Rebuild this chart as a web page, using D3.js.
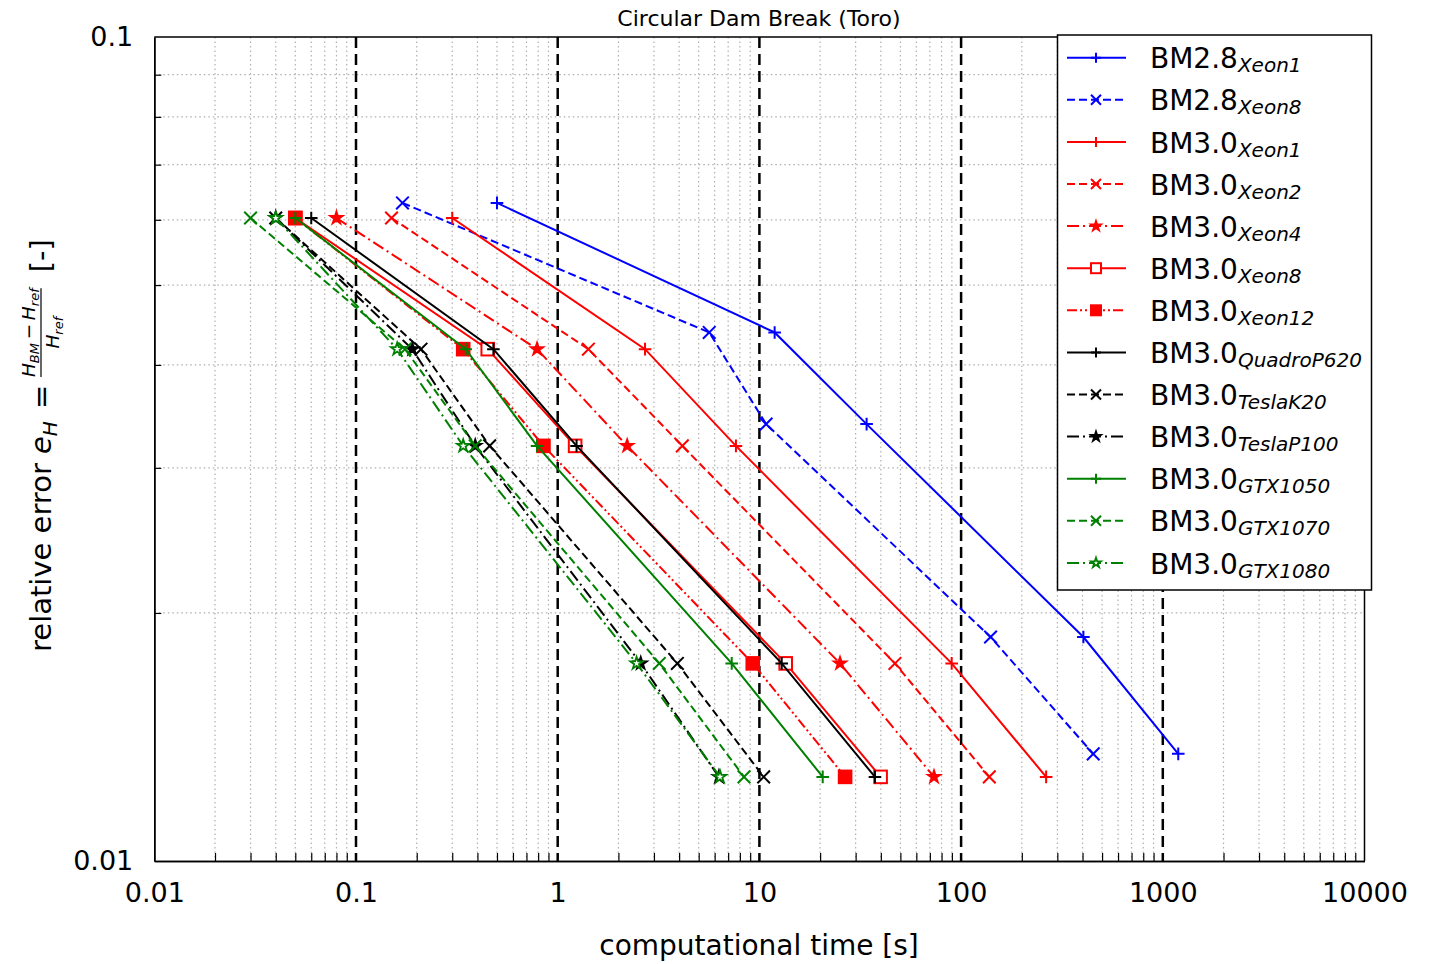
<!DOCTYPE html>
<html>
<head>
<meta charset="utf-8">
<script src="https://cdn.jsdelivr.net/npm/d3@7"></script>
<style>
    body { margin: 0; background: #fff; }
    svg { font-family: "DejaVu Sans", sans-serif; }
</style>
</head>
<body>
<svg id="chart" width="1440" height="964"></svg>
<script>
// error levels for the five meshes
const errBM28 = [0.0629, 0.0438, 0.0339, 0.0187, 0.01349]
const errBM30 = [0.0603, 0.0418, 0.0319, 0.01737, 0.01265]

// computational times [s]
const tBM28Xeon1 = [0.5, 11.9, 34.0, 404, 1193]
const tBM28Xeon8 = [0.17, 5.64, 10.8, 140, 452]
const tXeon1 = [0.3, 2.71, 7.65, 89.8, 264]
const tXeon2 = [0.15, 1.42, 4.15, 47.0, 138]
const tXeon4 = [0.08, 0.79, 2.21, 25.1, 73.4]
const tXeon8 = [0.05, 0.45, 1.22, 13.5, 39.9]
const tXeon12 = [0.05, 0.34, 0.85, 9.27, 26.6]
const tQuadroP620 = [0.06, 0.48, 1.24, 12.9, 37.4]
const tTeslaK20 = [0.04, 0.21, 0.46, 3.92, 10.5]
const tTeslaP100 = [0.04, 0.19, 0.39, 2.58, 6.3]
const tGTX1050 = [0.05, 0.35, 0.79, 7.29, 20.6]
const tGTX1070 = [0.03, 0.175, 0.39, 3.19, 8.39]
const tGTX1080 = [0.04, 0.16, 0.34, 2.46, 6.38]

// ticks
const xTicks = [0.01, 0.1, 1, 10, 100, 1000, 10000]
const xTickLabels = ["0.01", "0.1", "1", "10", "100", "1000", "10000"]
const yTicks = [0.01, 0.1]
const yTickLabels = ["0.01", "0.1"]

const dashes = { solid: null, dashed: "8,4", dashdot: "12,4,2,4", dashdotdot: "10,3,2,3,2,3" }

const series = [
    { name: "BM2.8", sub: "Xeon1", t: tBM28Xeon1, e: errBM28, color: "#0000ff", line: "solid", marker: "plus" },
    { name: "BM2.8", sub: "Xeon8", t: tBM28Xeon8, e: errBM28, color: "#0000ff", line: "dashed", marker: "x" },
    { name: "BM3.0", sub: "Xeon1", t: tXeon1, e: errBM30, color: "#ff0000", line: "solid", marker: "plus" },
    { name: "BM3.0", sub: "Xeon2", t: tXeon2, e: errBM30, color: "#ff0000", line: "dashed", marker: "x" },
    { name: "BM3.0", sub: "Xeon4", t: tXeon4, e: errBM30, color: "#ff0000", line: "dashdot", marker: "star" },
    { name: "BM3.0", sub: "Xeon8", t: tXeon8, e: errBM30, color: "#ff0000", line: "solid", marker: "squareOpen" },
    { name: "BM3.0", sub: "Xeon12", t: tXeon12, e: errBM30, color: "#ff0000", line: "dashdotdot", marker: "square" },
    { name: "BM3.0", sub: "QuadroP620", t: tQuadroP620, e: errBM30, color: "#000000", line: "solid", marker: "plus" },
    { name: "BM3.0", sub: "TeslaK20", t: tTeslaK20, e: errBM30, color: "#000000", line: "dashed", marker: "x" },
    { name: "BM3.0", sub: "TeslaP100", t: tTeslaP100, e: errBM30, color: "#000000", line: "dashdot", marker: "star" },
    { name: "BM3.0", sub: "GTX1050", t: tGTX1050, e: errBM30, color: "#008000", line: "solid", marker: "plus" },
    { name: "BM3.0", sub: "GTX1070", t: tGTX1070, e: errBM30, color: "#008000", line: "dashed", marker: "x" },
    { name: "BM3.0", sub: "GTX1080", t: tGTX1080, e: errBM30, color: "#008000", line: "dashdot", marker: "starOpen" },
]

const svg = d3.select("#chart")
const m = { left: 154.3, right: 1364.5, top: 37, bottom: 861 }

const x = d3.scaleLog().domain([0.01, 10000]).range([m.left, m.right])
const y = d3.scaleLog().domain([0.01, 0.1]).range([m.bottom, m.top])

// minor values
const xMinor = []
for (let p = -2; p < 4; p++) for (let k = 2; k <= 9; k++) xMinor.push(k * Math.pow(10, p))
const yMinor = [0.02, 0.03, 0.04, 0.05, 0.06, 0.07, 0.08, 0.09]

// grid
const grid = svg.append("g")
grid.selectAll(".gx").data(xMinor).join("line")
    .attr("x1", d => x(d)).attr("x2", d => x(d))
    .attr("y1", m.top).attr("y2", m.bottom)
    .attr("stroke", "#b0b0b0").attr("stroke-width", 1.2).attr("stroke-dasharray", "1.5,3")
grid.selectAll(".gy").data(yMinor).join("line")
    .attr("x1", m.left).attr("x2", m.right)
    .attr("y1", d => y(d)).attr("y2", d => y(d))
    .attr("stroke", "#b0b0b0").attr("stroke-width", 1.2).attr("stroke-dasharray", "1.5,3")
grid.selectAll(".gmaj").data(xTicks.slice(1, -1)).join("line")
    .attr("x1", d => x(d)).attr("x2", d => x(d))
    .attr("y1", m.top).attr("y2", m.bottom)
    .attr("stroke", "#000").attr("stroke-width", 2.5).attr("stroke-dasharray", "11,6")

// axes
svg.append("g")
    .attr("transform", `translate(0,${m.bottom})`)
    .call(d3.axisBottom(x).tickValues(xTicks).tickFormat((d, i) => xTickLabels[i]).tickSize(0).tickPadding(21.5))
svg.append("g")
    .attr("transform", `translate(0,${m.bottom})`)
    .call(d3.axisBottom(x).tickValues(xMinor).tickFormat("").tickSize(-8).tickSizeOuter(0))
svg.append("g")
    .attr("transform", `translate(${m.left},0)`)
    .call(d3.axisLeft(y).tickValues(yTicks).tickFormat((d, i) => yTickLabels[i]).tickSize(0).tickPadding(21))
svg.append("g")
    .attr("transform", `translate(${m.left},0)`)
    .call(d3.axisLeft(y).tickValues(yMinor).tickFormat("").tickSize(-7).tickSizeOuter(0))
svg.selectAll(".domain").attr("stroke", "#000").attr("stroke-width", 1.5)
svg.selectAll(".tick line").attr("stroke", "#000").attr("stroke-width", 1.2)
svg.selectAll(".tick text").attr("font-size", 27).attr("font-family", "DejaVu Sans").attr("fill", "#000")

// frame top/right
svg.append("line").attr("x1", m.left).attr("x2", m.right).attr("y1", m.top).attr("y2", m.top)
    .attr("stroke", "#000").attr("stroke-width", 1.5)
svg.append("line").attr("x1", m.right).attr("x2", m.right).attr("y1", m.top).attr("y2", m.bottom)
    .attr("stroke", "#000").attr("stroke-width", 1.5)

// markers
const drawMarker = (g, type, color, cx, cy, s) => {
    if (type == "plus") {
        g.append("path").attr("d", `M${cx - s},${cy}H${cx + s}M${cx},${cy - s}V${cy + s}`)
            .attr("stroke", color).attr("stroke-width", 2).attr("fill", "none")
    } else if (type == "x") {
        g.append("path").attr("d", `M${cx - s},${cy - s}L${cx + s},${cy + s}M${cx - s},${cy + s}L${cx + s},${cy - s}`)
            .attr("stroke", color).attr("stroke-width", 2).attr("fill", "none")
    } else if (type == "square" || type == "squareOpen") {
        g.append("rect").attr("x", cx - s).attr("y", cy - s).attr("width", 2 * s).attr("height", 2 * s)
            .attr("fill", type == "square" ? color : "#fff").attr("stroke", color).attr("stroke-width", 2)
    } else {
        g.append("path").attr("d", d3.symbol(d3.symbolStar, s * s * 1.2)())
            .attr("transform", `translate(${cx},${cy})`)
            .attr("fill", type == "star" ? color : "#fff").attr("stroke", color).attr("stroke-width", 1.8)
    }
}

const line = d3.line().x(d => x(d[0])).y(d => y(d[1]))
const plot = svg.append("g")
series.forEach(s => {
    const pts = s.t.map((t, i) => [t, s.e[i]])
    plot.append("path").datum(pts)
        .attr("d", line)
        .attr("fill", "none")
        .attr("stroke", s.color)
        .attr("stroke-width", 2)
        .attr("stroke-dasharray", dashes[s.line])
    pts.forEach(p => drawMarker(plot, s.marker, s.color, x(p[0]), y(p[1]), 6.3))
})

// title and axis labels
svg.append("text").attr("x", 759).attr("y", 26).attr("text-anchor", "middle")
    .attr("font-size", 22).text("Circular Dam Break (Toro)")
svg.append("text").attr("x", 759).attr("y", 955).attr("text-anchor", "middle")
    .attr("font-size", 28).text("computational time [s]")

// y label with fraction, rotated
const yl = svg.append("g").attr("transform", "translate(51,652) rotate(-90)")
const yt = yl.append("text").attr("font-size", 29)
yt.append("tspan").text("relative error ")
yt.append("tspan").attr("font-style", "italic").text("e")
yt.append("tspan").attr("font-size", 20).attr("font-style", "italic").attr("dy", 6).text("H")
const eqx = yt.node().getComputedTextLength() + 12
yl.append("text").attr("x", eqx).attr("y", 0).attr("font-size", 29).text("=")
const x0 = eqx + 32
const num = yl.append("text").attr("x", x0).attr("y", -16).attr("font-size", 18.5).attr("font-style", "italic")
num.append("tspan").text("H")
num.append("tspan").attr("font-size", 13).attr("dy", 4).text("BM")
num.append("tspan").attr("font-style", "normal").attr("dy", -4).text("\u2009\u2212\u2009")
num.append("tspan").text("H")
num.append("tspan").attr("font-size", 13).attr("dy", 4).text("ref")
const nw = num.node().getComputedTextLength()
yl.append("line").attr("x1", x0).attr("x2", x0 + nw).attr("y1", -10).attr("y2", -10)
    .attr("stroke", "#000").attr("stroke-width", 1.2)
const den = yl.append("text").attr("x", x0 + nw / 2).attr("y", 8).attr("font-size", 18.5)
    .attr("font-style", "italic").attr("text-anchor", "middle")
den.append("tspan").text("H")
den.append("tspan").attr("font-size", 13).attr("dy", 4).text("ref")
yl.append("text").attr("x", x0 + nw + 16).attr("y", 0).attr("font-size", 29).text("[-]")

// legend
const lg = svg.append("g")
lg.append("rect").attr("x", 1057.5).attr("y", 35).attr("width", 314).attr("height", 555)
    .attr("fill", "#fff").attr("stroke", "#000").attr("stroke-width", 1.5)
series.forEach((s, i) => {
    const ly = 57.7 + i * 42.1
    lg.append("line").attr("x1", 1067).attr("x2", 1126).attr("y1", ly).attr("y2", ly)
        .attr("stroke", s.color).attr("stroke-width", 2).attr("stroke-dasharray", dashes[s.line])
    drawMarker(lg, s.marker, s.color, 1096, ly, 5)
    const tx = lg.append("text").attr("x", 1150).attr("y", ly + 10.6).attr("font-size", 28)
    tx.append("tspan").text(s.name)
    tx.append("tspan").attr("font-size", 20).attr("font-style", "italic").attr("dy", 4).text(s.sub)
})
</script>
</body>
</html>
